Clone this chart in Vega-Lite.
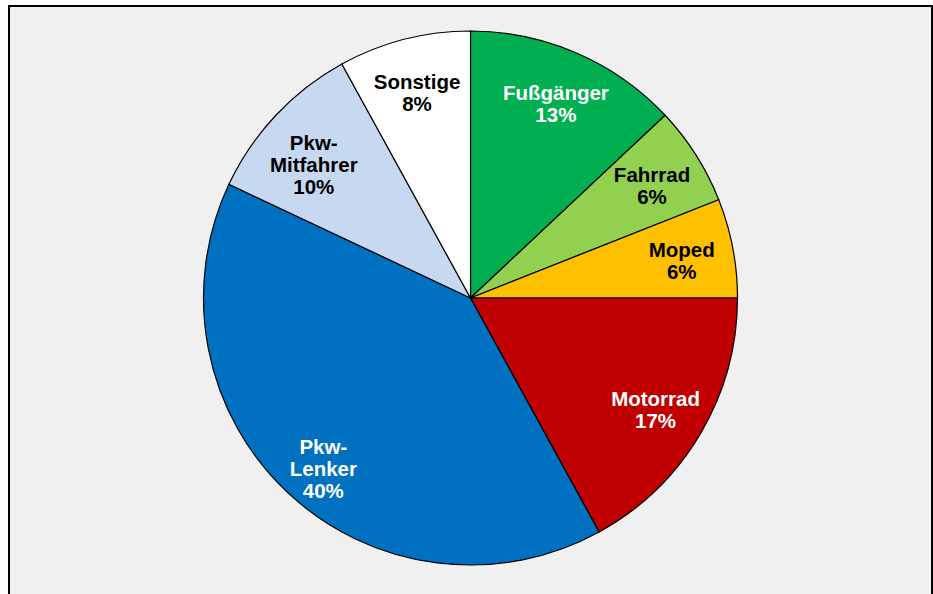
{
  "$schema": "https://vega.github.io/schema/vega-lite/v6.json",
  "autosize": "none",
  "width": 923,
  "height": 600,
  "padding": {"left": 9, "top": 6, "right": 1, "bottom": -12},
  "background": "#ffffff",
  "view": {"fill": "#f0f0f0", "stroke": "#000000", "strokeWidth": 2},
  "data": {
    "values": [
      {"kategorie": "Fußgänger", "label": ["Fußgänger", "13%"], "anteil": 13, "ord": 1, "textfarbe": "weiss"},
      {"kategorie": "Fahrrad", "label": ["Fahrrad", "6%"], "anteil": 6, "ord": 2, "textfarbe": "schwarz"},
      {"kategorie": "Moped", "label": ["Moped", "6%"], "anteil": 6, "ord": 3, "textfarbe": "schwarz"},
      {"kategorie": "Motorrad", "label": ["Motorrad", "17%"], "anteil": 17, "ord": 4, "textfarbe": "weiss"},
      {"kategorie": "Pkw-Lenker", "label": ["Pkw-", "Lenker", "40%"], "anteil": 40, "ord": 5, "textfarbe": "weiss"},
      {"kategorie": "Pkw-Mitfahrer", "label": ["Pkw-", "Mitfahrer", "10%"], "anteil": 10, "ord": 6, "textfarbe": "schwarz"},
      {"kategorie": "Sonstige", "label": ["Sonstige", "8%"], "anteil": 8, "ord": 7, "textfarbe": "schwarz"}
    ]
  },
  "encoding": {
    "theta": {"field": "anteil", "type": "quantitative", "stack": true},
    "order": {"field": "ord", "type": "quantitative"}
  },
  "layer": [
    {
      "mark": {"type": "arc", "outerRadius": 267, "stroke": "#000000", "strokeWidth": 1.2, "yOffset": -8},
      "encoding": {
        "color": {
          "field": "kategorie",
          "type": "nominal",
          "scale": {
            "domain": ["Fußgänger", "Fahrrad", "Moped", "Motorrad", "Pkw-Lenker", "Pkw-Mitfahrer", "Sonstige"],
            "range": ["#00b050", "#92d050", "#ffc000", "#c00000", "#0070c0", "#c6d9f1", "#ffffff"]
          },
          "legend": null
        }
      }
    },
    {
      "mark": {"type": "text", "radius": 215, "yOffset": -15, "font": "Liberation Sans", "fontWeight": "bold", "fontSize": 20.5, "lineHeight": 22, "align": "center", "baseline": "middle"},
      "encoding": {
        "text": {"field": "label"},
        "color": {
          "field": "textfarbe",
          "type": "nominal",
          "scale": {"domain": ["weiss", "schwarz"], "range": ["#ffffff", "#000000"]},
          "legend": null
        }
      }
    }
  ],
  "resolve": {"scale": {"color": "independent"}}
}
